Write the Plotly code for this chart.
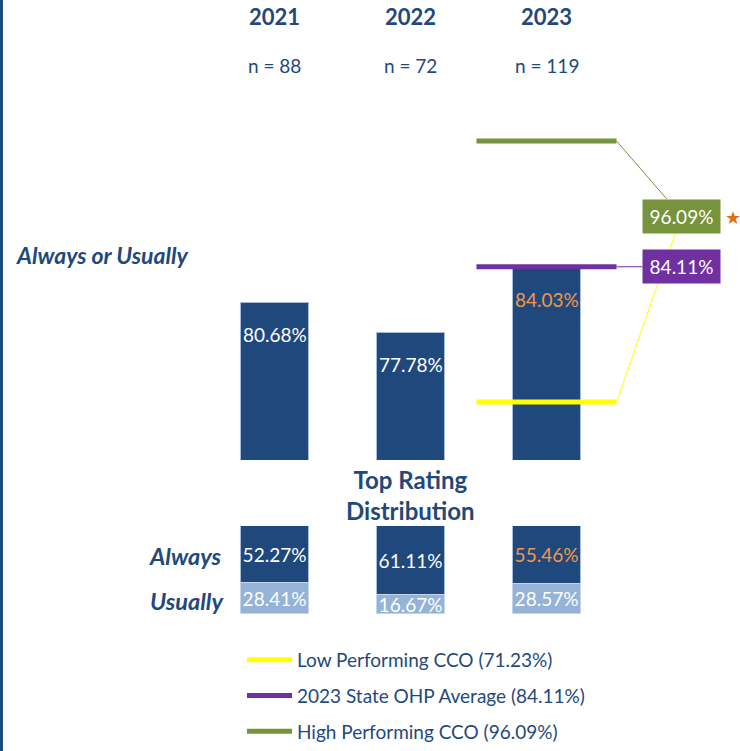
import plotly.graph_objects as go

# ---------------- data ----------------
years = ["2021", "2022", "2023"]
sample_sizes = [88, 72, 119]
always_or_usually = [80.68, 77.78, 84.03]
always = [52.27, 61.11, 55.46]
usually = [28.41, 16.67, 28.57]

benchmark_names = ["Low Performing CCO", "2023 State OHP Average", "High Performing CCO"]
benchmark_values = [71.23, 84.11, 96.09]

# ---------------- style ----------------
FONT = "Lato, 'Open Sans', sans-serif"
DARK = "#1F497D"
LIGHT = "#95B3D7"
ORANGE = "#F79646"
BENCH_COLORS = ["#FFFF00", "#7030A0", "#77933C"]
HIGHLIGHT_YEAR = "2023"
W, H = 740, 751


def py(px):  # pixel row -> paper y
    return 1 - px / H


xpos = list(range(len(years)))
label_colors = [ORANGE if y == HIGHLIGHT_YEAR else "white" for y in years]
last = xpos[-1]
half = 0.515

always_share = [a / (a + u) * 100 for a, u in zip(always, usually)]
usually_share = [u / (a + u) * 100 for a, u in zip(always, usually)]

fig = go.Figure()

# top: Always or Usually bars
fig.add_trace(go.Bar(
    x=xpos, y=always_or_usually, width=0.5,
    marker=dict(color=DARK, line=dict(color="#A7BCD9", width=1)),
    showlegend=False, hoverinfo="skip", xaxis="x", yaxis="y",
))

# benchmark lines
for name, val, col in zip(benchmark_names, benchmark_values, BENCH_COLORS):
    fig.add_trace(go.Scatter(
        x=[last - half, last + half], y=[val, val], mode="lines",
        line=dict(color=col, width=5),
        name=f"{name} ({val:.2f}%)", legendgroup=name,
        hoverinfo="skip", xaxis="x", yaxis="y",
    ))

# bottom: top rating distribution
fig.add_trace(go.Bar(
    x=xpos, y=always_share, width=0.5,
    marker=dict(color=DARK, line=dict(color="#A7BCD9", width=1)),
    text=[f"{v:.2f}%" for v in always], textposition="inside", textangle=0,
    insidetextanchor="middle", textfont=dict(color=label_colors, size=19, family=FONT),
    showlegend=False, hoverinfo="skip", xaxis="x2", yaxis="y2",
))
fig.add_trace(go.Bar(
    x=xpos, y=usually_share, width=0.5,
    marker=dict(color=LIGHT, line=dict(color="#C5D5EA", width=1)),
    text=[f"{v:.2f}%" for v in usually], textposition="inside", textangle=0,
    insidetextanchor="middle", textfont=dict(color="white", size=19, family=FONT),
    showlegend=False, hoverinfo="skip", xaxis="x2", yaxis="y2",
))

annotations = []
# value labels in top bars
for x, v, c in zip(xpos, always_or_usually, label_colors):
    annotations.append(dict(
        x=x, y=v, xref="x", yref="y", xanchor="center", yanchor="top", yshift=-18,
        text=f"{v:.2f}%", showarrow=False, font=dict(color=c, size=19, family=FONT),
    ))

# headers
for x, yr, n in zip(xpos, years, sample_sizes):
    annotations.append(dict(x=x, y=py(16), xref="x", yref="paper", xanchor="center",
                            yanchor="middle", text=f"<b>{yr}</b>",
                            showarrow=False, font=dict(color=DARK, size=22, family=FONT)))
    annotations.append(dict(x=x, y=py(65), xref="x", yref="paper", xanchor="center",
                            yanchor="middle", text=f"n = {n}",
                            showarrow=False, font=dict(color=DARK, size=19, family=FONT)))

# benchmark value boxes with connectors (low performer's box lies beneath the high one)
box_offsets = [(65, -186), (65, 0), (65, 75)]
for i, (val, col, (ax, ay)) in enumerate(zip(benchmark_values, BENCH_COLORS, box_offsets)):
    hidden = i == 0
    annotations.append(dict(
        x=last + half, y=val, xref="x", yref="y", ax=ax, ay=ay,
        text=" " if hidden else f"{val:.2f}%", showarrow=True, arrowhead=0,
        arrowwidth=1, arrowcolor=col, standoff=0,
        bgcolor="rgba(0,0,0,0)" if hidden else col, width=75, height=31, borderpad=1,
        font=dict(color="white", size=19, family=FONT),
    ))

annotations.append(dict(x=733 / W, y=py(217), xref="paper", yref="paper", xanchor="center",
                        yanchor="middle", text="★",
                        showarrow=False, font=dict(color="#E46C0A", size=18, family="DejaVu Sans")))

# side / section labels
annotations.append(dict(x=14 / W, y=py(255), xref="paper", yref="paper", xanchor="left",
                        yanchor="middle", text="<b><i>Always or Usually</i></b>", showarrow=False,
                        font=dict(color=DARK, size=23, family=FONT)))
annotations.append(dict(x=223 / W, y=py(556), xref="paper", yref="paper", xanchor="right",
                        yanchor="middle", text="<b><i>Always</i></b>", showarrow=False,
                        font=dict(color=DARK, size=23.5, family=FONT)))
annotations.append(dict(x=226 / W, y=py(601), xref="paper", yref="paper", xanchor="right",
                        yanchor="middle", text="<b><i>Usually</i></b>", showarrow=False,
                        font=dict(color=DARK, size=23.5, family=FONT)))
annotations.append(dict(x=1, y=py(495), xref="x", yref="paper", xanchor="center",
                        yanchor="middle", text="<b>Top Rating<br>Distribution</b>",
                        showarrow=False, font=dict(color=DARK, size=24, family=FONT)))

xr = [-274.5 / 136, (W - 274.5) / 136]

fig.update_layout(
    width=W, height=H,
    margin=dict(l=0, r=0, t=0, b=0),
    paper_bgcolor="white", plot_bgcolor="rgba(0,0,0,0)",
    barmode="stack", bargap=0,
    uniformtext=dict(minsize=19, mode="show"),
    font=dict(family=FONT, color=DARK),
    xaxis=dict(domain=[0, 1], range=xr, visible=False, anchor="y", fixedrange=True),
    yaxis=dict(domain=[py(460), py(100)], range=[65.7, 100], visible=False, fixedrange=True),
    xaxis2=dict(domain=[0, 1], range=xr, visible=False, anchor="y2", fixedrange=True),
    yaxis2=dict(domain=[py(614), py(526)], range=[100, 0], visible=False, fixedrange=True),
    showlegend=True,
    legend=dict(
        x=242 / W, y=0, xanchor="left", yanchor="bottom",
        traceorder="grouped", tracegroupgap=8, itemwidth=45,
        font=dict(color=DARK, size=19, family=FONT),
        bgcolor="rgba(0,0,0,0)",
    ),
    annotations=annotations,
    shapes=[dict(type="line", xref="paper", yref="paper", x0=0.002, x1=0.002, y0=0, y1=1,
                 line=dict(color=DARK, width=3))],
)

fig.write_html("out.html", config={"displayModeBar": False},
               post_script="document.body.style.margin='0';")
